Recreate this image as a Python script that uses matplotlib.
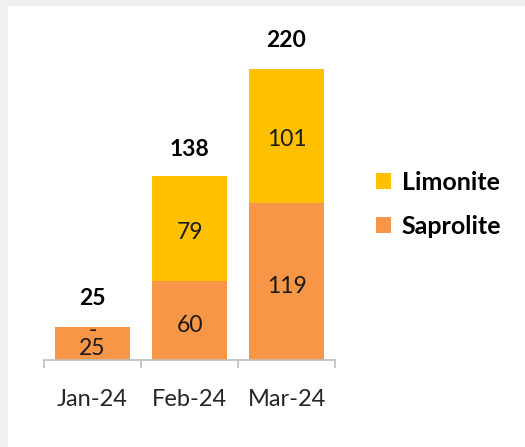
import matplotlib
matplotlib.use("Agg")
import matplotlib.pyplot as plt
from matplotlib.patches import Rectangle, Patch

categories = ["Jan-24", "Feb-24", "Mar-24"]
saprolite = [25, 60, 119]
limonite = [0, 79, 101]
totals = [25, 138, 220]
series_names = ["Limonite", "Saprolite"]

col_lim = "#FFC000"
col_sap = "#F79646"
txt = "#1a1a1a"

plt.rcParams['font.family'] = ['Lato', 'DejaVu Sans']

fig = plt.figure(figsize=(5.25, 4.47), dpi=100)
fig.patch.set_facecolor("#f0f0f0")
fig.patches.append(Rectangle((8/525, 0), 1, 1 - 6/447, transform=fig.transFigure,
                             facecolor="white", edgecolor="none", zorder=-5))

W, H = 525, 447
left, right = 44, 335
base, top = 360, 20
ax = fig.add_axes([left/W, (H-base)/H, (right-left)/W, (base-top)/H])
ax.set_facecolor("none")
ax.set_zorder(2)
ymax = (base - top) / 1.323
ax.set_xlim(-0.5, 2.5)
ax.set_ylim(0, ymax)

x = list(range(len(categories)))
bw = 0.77
b1 = ax.bar(x, saprolite, width=bw, color=col_sap, label="Saprolite", zorder=2)
b2 = ax.bar(x, limonite, width=bw, bottom=saprolite, color=col_lim, label="Limonite", zorder=2)

fs = 16.5
for i in x:
    ax.annotate(str(saprolite[i]), (i, saprolite[i] / 2), xytext=(0, -5),
                textcoords="offset pixels", ha="center", va="center",
                fontsize=fs, color=txt, zorder=3)
    lab = str(limonite[i]) if limonite[i] != 0 else "-"
    ax.annotate(lab, (i, saprolite[i] + limonite[i] / 2), xytext=(0, -4),
                textcoords="offset pixels", ha="center", va="center",
                fontsize=fs, color=txt, zorder=3)
    ax.annotate(str(totals[i]), (i, totals[i]), xytext=(0, 28), textcoords="offset pixels",
                ha="center", va="center", fontsize=fs, fontweight="bold", color="black")

for s in ["top", "right", "left"]:
    ax.spines[s].set_visible(False)
ax.spines["bottom"].set_color("#bfbfbf")
ax.spines["bottom"].set_linewidth(1.2)
ax.set_yticks([])
ax.set_xticks(x)
ax.set_xticklabels(categories, fontsize=17, color="#262626")
ax.tick_params(axis="x", which="major", length=0, pad=21)
ax.set_xticks([-0.5, 0.5, 1.5, 2.5], minor=True)
ax.tick_params(axis="x", which="minor", length=6, color="#bfbfbf", width=1.2)

handles = [Patch(facecolor=col_lim), Patch(facecolor=col_sap)]
leg = fig.legend(handles, series_names, loc="upper left",
                 bbox_to_anchor=(353/W, 1 - 148/H), frameon=False,
                 prop={"size": 18, "weight": "bold"}, handlelength=0.6, handleheight=0.6,
                 handletextpad=0.45, labelspacing=0.85)

fig.savefig("out.png", dpi=100, facecolor=fig.get_facecolor())
